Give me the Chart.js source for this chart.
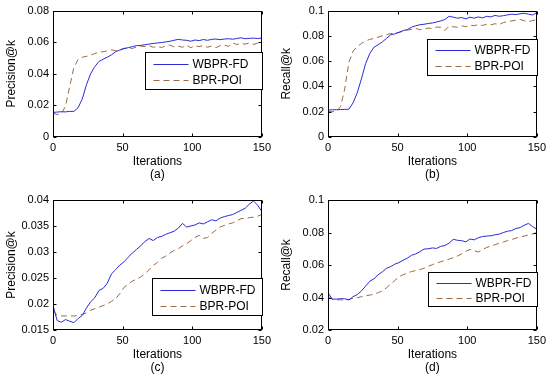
<!DOCTYPE html>
<html>
<head>
<meta charset="utf-8">
<script src="https://cdn.jsdelivr.net/npm/chart.js@4"></script>
<style>
  body { margin: 0; background: #fff; }
  .panel { position: absolute; }
</style>
</head>
<body>
<div class="panel" style="left:0;top:0;width:275px;height:187px"><canvas id="chart-a"></canvas></div>
<div class="panel" style="left:275px;top:0;width:275px;height:187px"><canvas id="chart-b"></canvas></div>
<div class="panel" style="left:0;top:187px;width:275px;height:188px"><canvas id="chart-c"></canvas></div>
<div class="panel" style="left:275px;top:187px;width:275px;height:188px"><canvas id="chart-d"></canvas></div>
<script>
// iterations sampled every 3 steps
const iterations = [
  0, 3, 6, 9, 12, 15, 18, 21, 24, 27,
  30, 33, 36, 39, 42, 45, 48, 51, 54, 57,
  60, 63, 66, 69, 72, 75, 78, 81, 84, 87,
  90, 93, 96, 99, 102, 105, 108, 111, 114, 117,
  120, 123, 126, 129, 132, 135, 138, 141, 144, 147,
  150
];

// (a) Precision@k
const precA_wbpr = [
  0.0155, 0.0158, 0.0160, 0.0159, 0.0162, 0.0162, 0.0185, 0.0240, 0.0330, 0.0400,
  0.0445, 0.0478, 0.0492, 0.0505, 0.0520, 0.0540, 0.0550, 0.0560, 0.0565, 0.0572,
  0.0578, 0.0580, 0.0584, 0.0588, 0.0592, 0.0595, 0.0598, 0.0602, 0.0606, 0.0612,
  0.0618, 0.0614, 0.0612, 0.0606, 0.0614, 0.0610, 0.0617, 0.0612, 0.0618, 0.0620,
  0.0616, 0.0620, 0.0622, 0.0619, 0.0623, 0.0628, 0.0622, 0.0624, 0.0626, 0.0623,
  0.0627
];
const precA_bpr = [
  0.0150, 0.0142, 0.0148, 0.0195, 0.0320, 0.0440, 0.0490, 0.0505, 0.0510, 0.0518,
  0.0528, 0.0536, 0.0540, 0.0545, 0.0552, 0.0546, 0.0552, 0.0560, 0.0565, 0.0560,
  0.0570, 0.0575, 0.0572, 0.0578, 0.0568, 0.0574, 0.0566, 0.0578, 0.0582, 0.0570,
  0.0575, 0.0568, 0.0580, 0.0565, 0.0578, 0.0572, 0.0580, 0.0568, 0.0576, 0.0565,
  0.0578, 0.0582, 0.0574, 0.0596, 0.0585, 0.0592, 0.0588, 0.0595, 0.0586, 0.0594,
  0.0596
];

// (b) Recall@k
const recB_wbpr = [
  0.0214, 0.0215, 0.0216, 0.0217, 0.0218, 0.0220, 0.0270, 0.0350, 0.0460, 0.0580,
  0.0660, 0.0710, 0.0730, 0.0752, 0.0780, 0.0808, 0.0816, 0.0828, 0.0842, 0.0850,
  0.0868, 0.0880, 0.0888, 0.0892, 0.0898, 0.0902, 0.0910, 0.0918, 0.0930, 0.0955,
  0.0948, 0.0940, 0.0945, 0.0935, 0.0948, 0.0940, 0.0950, 0.0942, 0.0955, 0.0950,
  0.0962, 0.0955, 0.0960, 0.0966, 0.0972, 0.0968, 0.0975, 0.0978, 0.0972, 0.0965,
  0.0985
];
const recB_bpr = [
  0.0203, 0.0200, 0.0203, 0.0240, 0.0380, 0.0590, 0.0680, 0.0715, 0.0740, 0.0760,
  0.0772, 0.0780, 0.0790, 0.0800, 0.0810, 0.0818, 0.0822, 0.0828, 0.0836, 0.0845,
  0.0852, 0.0860, 0.0848, 0.0855, 0.0862, 0.0858, 0.0870, 0.0868, 0.0842, 0.0878,
  0.0872, 0.0868, 0.0880, 0.0872, 0.0885, 0.0880, 0.0890, 0.0882, 0.0892, 0.0888,
  0.0896, 0.0890, 0.0905, 0.0914, 0.0918, 0.0925, 0.0930, 0.0920, 0.0912, 0.0922,
  0.0927
];

// (c) Precision@k
const precC_wbpr = [
  0.0197, 0.0168, 0.0165, 0.0170, 0.0167, 0.0164, 0.0172, 0.0178, 0.0192, 0.0204,
  0.0212, 0.0226, 0.0230, 0.0240, 0.0258, 0.0266, 0.0275, 0.0281, 0.0290, 0.0298,
  0.0305, 0.0312, 0.0320, 0.0326, 0.0322, 0.0328, 0.0330, 0.0334, 0.0337, 0.0340,
  0.0346, 0.0355, 0.0348, 0.0350, 0.0352, 0.0356, 0.0354, 0.0358, 0.0362, 0.0360,
  0.0365, 0.0368, 0.0370, 0.0372, 0.0376, 0.0380, 0.0384, 0.0392, 0.0398, 0.0390,
  0.0378
];
const precC_bpr = [
  0.0187, 0.0178, 0.0177, 0.0177, 0.0177, 0.0177, 0.0178, 0.0180, 0.0183, 0.0188,
  0.0191, 0.0194, 0.0197, 0.0200, 0.0205, 0.0210, 0.0220, 0.0232, 0.0238, 0.0244,
  0.0248, 0.0252, 0.0258, 0.0266, 0.0274, 0.0280, 0.0288, 0.0292, 0.0298, 0.0303,
  0.0306, 0.0312, 0.0316, 0.0322, 0.0328, 0.0332, 0.0326, 0.0328, 0.0336, 0.0342,
  0.0348, 0.0351, 0.0354, 0.0356, 0.0360, 0.0364, 0.0365, 0.0366, 0.0367, 0.0369,
  0.0372
];

// (d) Recall@k
const recD_wbpr = [
  0.0430, 0.0390, 0.0390, 0.0393, 0.0392, 0.0385, 0.0405, 0.0418, 0.0440, 0.0470,
  0.0500, 0.0515, 0.0540, 0.0558, 0.0580, 0.0590, 0.0605, 0.0615, 0.0630, 0.0642,
  0.0660, 0.0668, 0.0682, 0.0698, 0.0700, 0.0705, 0.0702, 0.0715, 0.0720, 0.0735,
  0.0758, 0.0752, 0.0750, 0.0742, 0.0760, 0.0755, 0.0768, 0.0775, 0.0778, 0.0780,
  0.0786, 0.0790, 0.0800, 0.0808, 0.0812, 0.0825, 0.0830, 0.0845, 0.0856, 0.0836,
  0.0820
];
const recD_bpr = [
  0.0409, 0.0390, 0.0387, 0.0385, 0.0386, 0.0388, 0.0395, 0.0399, 0.0405, 0.0410,
  0.0415, 0.0420, 0.0430, 0.0440, 0.0460, 0.0482, 0.0505, 0.0528, 0.0540, 0.0550,
  0.0560, 0.0566, 0.0572, 0.0580, 0.0592, 0.0602, 0.0612, 0.0620, 0.0628, 0.0636,
  0.0645, 0.0655, 0.0668, 0.0685, 0.0696, 0.0688, 0.0680, 0.0695, 0.0708, 0.0716,
  0.0725, 0.0735, 0.0742, 0.0750, 0.0757, 0.0765, 0.0772, 0.0778, 0.0785, 0.0792,
  0.0799
];

const seriesNames = ['WBPR-FD', 'BPR-POI'];
const blue = '#2b2bd6';
const brown = '#9c6a44';

Chart.defaults.font.family = "'Liberation Sans', Arial, sans-serif";
Chart.defaults.color = '#000';

// box round the plot, inward ticks and the legend inside the axes
const matlabBox = {
  id: 'matlabBox',
  afterDatasetsDraw(chart, args, opts) {
    const { ctx, chartArea: a, scales } = chart;
    ctx.save();
    ctx.strokeStyle = '#000';
    ctx.lineWidth = 1;
    const L = Math.round(a.left) + 0.5, R = Math.round(a.right) - 0.5;
    const T = Math.round(a.top) + 0.5, B = Math.round(a.bottom) - 0.5;
    ctx.strokeRect(L, T, R - L, B - T);
    ctx.beginPath();
    scales.x.ticks.forEach(t => {
      const px = Math.round(scales.x.getPixelForValue(t.value)) + 0.5;
      ctx.moveTo(px, B); ctx.lineTo(px, B - 3);
      ctx.moveTo(px, T); ctx.lineTo(px, T + 3);
    });
    scales.y.ticks.forEach(t => {
      const py = Math.round(scales.y.getPixelForValue(t.value)) + 0.5;
      ctx.moveTo(L, py); ctx.lineTo(L + 3, py);
      ctx.moveTo(R, py); ctx.lineTo(R - 3, py);
    });
    ctx.stroke();

    // legend
    const lg = opts.legend;
    const bx = Math.round(a.right - lg.w) + 0.5, by = Math.round(a.top + lg.top) + 0.5;
    ctx.fillStyle = '#fff';
    ctx.fillRect(bx, by, lg.w, lg.h);
    ctx.strokeRect(bx, by, lg.w, lg.h);
    const rows = [by + lg.h * 0.3, by + lg.h * 0.74];
    chart.data.datasets.forEach((ds, i) => {
      const y = Math.round(rows[i]) + 0.5;
      ctx.beginPath();
      ctx.strokeStyle = ds.borderColor;
      ctx.lineWidth = 1.2;
      ctx.setLineDash(ds.borderDash || []);
      ctx.moveTo(bx + 8, y);
      ctx.lineTo(bx + 43, y);
      ctx.stroke();
      ctx.setLineDash([]);
      ctx.fillStyle = '#000';
      ctx.font = "12px 'Liberation Sans', Arial, sans-serif";
      ctx.textBaseline = 'middle';
      ctx.fillText(ds.label, bx + 47, y);
    });
    ctx.restore();
  }
};

function makePanel(id, p) {
  const toPoints = vals => iterations.map((x, i) => ({ x: x, y: vals[i] }));
  return new Chart(document.getElementById(id), {
    type: 'line',
    data: {
      datasets: [
        {
          label: seriesNames[0],
          data: toPoints(p.wbpr),
          borderColor: blue,
          borderWidth: 1,
          pointRadius: 0,
          tension: 0
        },
        {
          label: seriesNames[1],
          data: toPoints(p.bpr),
          borderColor: brown,
          borderWidth: 1,
          borderDash: [6, 4],
          pointRadius: 0,
          tension: 0
        }
      ]
    },
    options: {
      responsive: true,
      maintainAspectRatio: false,
      animation: false,
      layout: { padding: { top: p.padTop, right: 13, left: 0, bottom: 0 } },
      plugins: {
        legend: { display: false },
        tooltip: { enabled: false },
        matlabBox: { legend: p.legend }
      },
      scales: {
        x: {
          type: 'linear',
          min: 0,
          max: 150,
          ticks: { stepSize: 50, padding: 4, maxRotation: 0, font: { size: 11 } },
          grid: { display: false, drawTicks: false },
          border: { display: false },
          title: {
            display: true,
            text: ['Iterations', p.tag],
            font: { size: 12, lineHeight: 1.15 },
            padding: { top: 0, bottom: p.titlePad }
          },
          afterFit(s) { s.height = p.xHeight; }
        },
        y: {
          min: p.yMin,
          max: p.yMax,
          ticks: {
            stepSize: p.yStep,
            padding: 4,
            font: { size: 11 },
            callback: v => String(+v.toFixed(3))
          },
          grid: { display: false, drawTicks: false },
          border: { display: false },
          title: { display: true, text: p.yLabel, font: { size: 12 }, padding: { top: 4, bottom: 0 } },
          afterFit(s) { s.width = 53; }
        }
      }
    },
    plugins: [matlabBox]
  });
}

makePanel('chart-a', {
  wbpr: precA_wbpr, bpr: precA_bpr, yLabel: 'Precision@k', tag: '(a)',
  yMin: 0, yMax: 0.08, yStep: 0.02,
  padTop: 9, xHeight: 50, titlePad: 5,
  legend: { top: 41, w: 117, h: 37 }
});
makePanel('chart-b', {
  wbpr: recB_wbpr, bpr: recB_bpr, yLabel: 'Recall@k', tag: '(b)',
  yMin: 0, yMax: 0.1, yStep: 0.02,
  padTop: 9, xHeight: 50, titlePad: 5,
  legend: { top: 28, w: 110, h: 36 }
});
makePanel('chart-c', {
  wbpr: precC_wbpr, bpr: precC_bpr, yLabel: 'Precision@k', tag: '(c)',
  yMin: 0.015, yMax: 0.04, yStep: 0.005,
  padTop: 13, xHeight: 45, titlePad: 0,
  legend: { top: 78, w: 110, h: 37 }
});
makePanel('chart-d', {
  wbpr: recD_wbpr, bpr: recD_bpr, yLabel: 'Recall@k', tag: '(d)',
  yMin: 0.02, yMax: 0.1, yStep: 0.02,
  padTop: 13, xHeight: 45, titlePad: 0,
  legend: { top: 72, w: 109, h: 34 }
});
</script>
</body>
</html>
